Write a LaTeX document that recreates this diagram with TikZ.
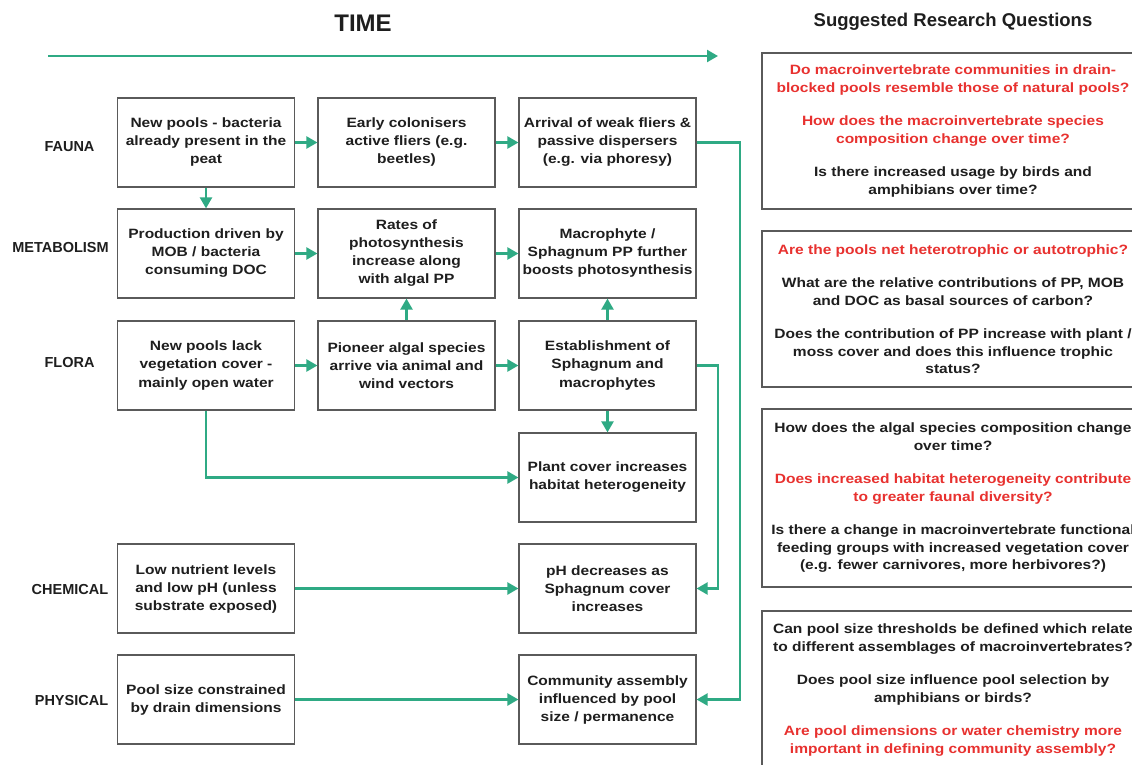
\documentclass[tikz,border=0pt]{standalone}
\usepackage{fontspec}
\setmainfont{Liberation Sans}
\newfontfamily\wideface{Liberation Sans}[FakeStretch=1.15]
\usetikzlibrary{arrows.meta}
\definecolor{tgreen}{HTML}{2FAA84}
\definecolor{qred}{HTML}{E8312F}
\definecolor{ink}{HTML}{1E1E1E}
\definecolor{frame}{HTML}{5A5A5A}
\begin{document}
\begin{tikzpicture}[x=1pt,y=-1pt,
  box/.style={draw=frame, line width=1.2pt, fill=white, minimum width=177pt, minimum height=89pt,
    align=center, text=ink, font=\wideface\fontsize{13.5}{18}\selectfont\bfseries, inner sep=0pt},
  qbox/.style={draw=frame, line width=1.2pt, fill=white, minimum width=382pt,
    align=center, text=ink, font=\wideface\fontsize{13.5}{17.5}\selectfont\bfseries, inner sep=0pt},
  rowlab/.style={text=ink, font=\fontsize{14.5}{17}\selectfont\bfseries, inner sep=0pt},
  arr/.style={draw=tgreen, line width=2.3pt, -{Triangle[length=11pt,width=12pt]}},
]
\fill[white] (0,0) rectangle (1132,764);
\useasboundingbox (0,0) rectangle (1132,764);

% headings
\node[text=ink, font=\fontsize{24}{28}\selectfont\bfseries] (time) at (363,23) {TIME};
\node[text=ink, font=\fontsize{18.5}{22}\selectfont\bfseries] (srq) at (953,22) {Suggested Research Questions};
\coordinate (tstart) at (48,56);
\coordinate (tend) at (718,56);
\draw[arr] (tstart) -- (tend);

% row labels
\node[rowlab] (lfauna) at (69.5,147) {FAUNA};
\node[rowlab] (lmetab) at (60.5,248) {METABOLISM};
\node[rowlab] (lflora) at (69.5,362) {FLORA};
\node[rowlab] (lchem) at (70,589) {CHEMICAL};
\node[rowlab] (lphys) at (71.5,700) {PHYSICAL};

% boxes
\node[box] (f1) at (206,142.5) {New pools - bacteria\\already present in the\\peat};
\node[box] (f2) at (406.5,142.5) {Early colonisers\\active fliers (e.g.\\beetles)};
\node[box] (f3) at (607.5,142.5) {Arrival of weak fliers \&\\passive dispersers\\(e.g. via phoresy)};
\node[box] (m1) at (206,253.5) {Production driven by\\MOB / bacteria\\consuming DOC};
\node[box] (m2) at (406.5,253.5) {Rates of\\photosynthesis\\increase along\\with algal PP};
\node[box] (m3) at (607.5,253.5) {Macrophyte /\\Sphagnum PP further\\boosts photosynthesis};
\node[box] (fl1) at (206,365.5) {New pools lack\\vegetation cover -\\mainly open water};
\node[box] (fl2) at (406.5,365.5) {Pioneer algal species\\arrive via animal and\\wind vectors};
\node[box] (fl3) at (607.5,365.5) {Establishment of\\Sphagnum and\\macrophytes};
\node[box] (pc) at (607.5,477.5) {Plant cover increases\\habitat heterogeneity};
\node[box] (c1) at (206,588.5) {Low nutrient levels\\and low pH (unless\\substrate exposed)};
\node[box] (c3) at (607.5,588.5) {pH decreases as\\Sphagnum cover\\increases};
\node[box] (p1) at (206,699.5) {Pool size constrained\\by drain dimensions};
\node[box] (p3) at (607.5,699.5) {Community assembly\\influenced by pool\\size / permanence};

% connectors
\draw[arr] (f1) -- (f2);
\draw[arr] (f2) -- (f3);
\draw[arr] (f1) -- (m1);
\draw[arr] (m1) -- (m2);
\draw[arr] (m2) -- (m3);
\draw[arr] (fl2) -- (m2);
\draw[arr] (fl3) -- (m3);
\draw[arr] (fl1) -- (fl2);
\draw[arr] (fl2) -- (fl3);
\draw[arr] (fl3) -- (pc);
\draw[arr] (fl1.south) |- (pc.west);
\draw[arr] (c1) -- (c3);
\draw[arr] (p1) -- (p3);
\coordinate (fbend) at (740,142.5);
\coordinate (flbend) at (718,365.5);
\draw[arr] (f3.east) -- (fbend) |- (p3.east);
\draw[arr] (fl3.east) -- (flbend) |- (c3.east);

% question boxes
\begin{scope}
\clip (0,0) rectangle (1132,764);
\node[qbox, minimum height=156pt] (q1) at (953,131) {%
\textcolor{qred}{Do macroinvertebrate communities in drain-}\\
\textcolor{qred}{blocked pools resemble those of natural pools?}\\[16pt]
\textcolor{qred}{How does the macroinvertebrate species}\\
\textcolor{qred}{composition change over time?}\\[16pt]
Is there increased usage by birds and\\
amphibians over time?};
\node[qbox, minimum height=156pt] (q2) at (953,309) {%
\textcolor{qred}{Are the pools net heterotrophic or autotrophic?}\\[16pt]
What are the relative contributions of PP, MOB\\
and DOC as basal sources of carbon?\\[16pt]
Does the contribution of PP increase with plant /\\
moss cover and does this influence trophic\\
status?};
\node[qbox, minimum height=178pt] (q3) at (953,498) {%
How does the algal species composition change\\
over time?\\[16pt]
\textcolor{qred}{Does increased habitat heterogeneity contribute}\\
\textcolor{qred}{to greater faunal diversity?}\\[16pt]
Is there a change in macroinvertebrate functional\\
feeding groups with increased vegetation cover\\
(e.g. fewer carnivores, more herbivores?)};
\node[qbox, minimum height=158pt] (q4) at (953,690) {%
Can pool size thresholds be defined which relate\\
to different assemblages of macroinvertebrates?\\[16pt]
Does pool size influence pool selection by\\
amphibians or birds?\\[16pt]
\textcolor{qred}{Are pool dimensions or water chemistry more}\\
\textcolor{qred}{important in defining community assembly?}};
\end{scope}
\end{tikzpicture}
\end{document}
